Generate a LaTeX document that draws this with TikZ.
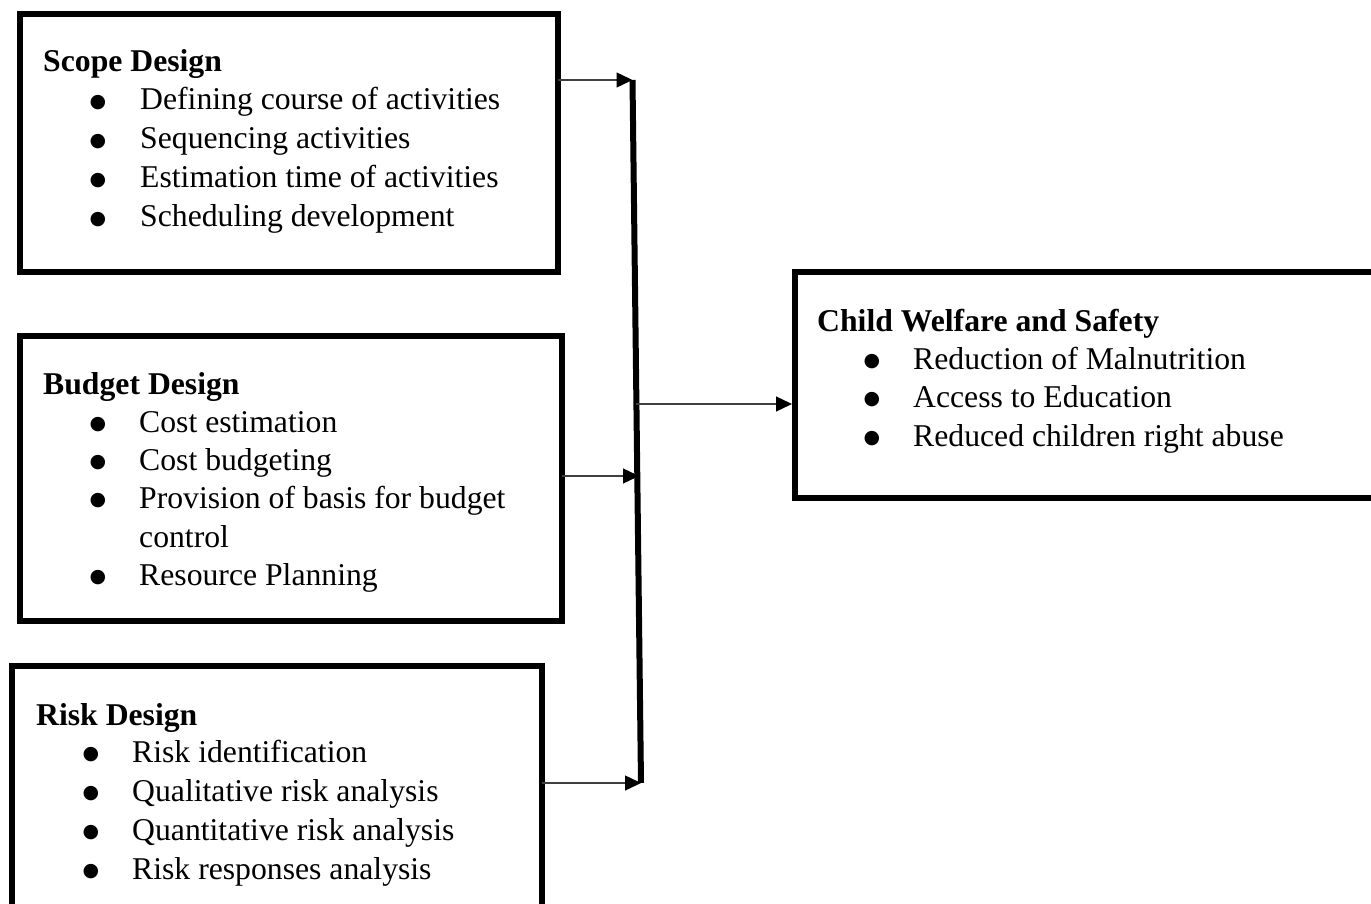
\documentclass[tikz,border=0pt]{standalone}
\usepackage{fontspec}
\setmainfont{Liberation Serif}
\newfontfamily\bulfont{DejaVu Sans}
\usetikzlibrary{arrows.meta}
\begin{document}
\begin{tikzpicture}[x=1pt,y=-1pt,
  box/.style={draw=black, line width=6.5pt, rectangle, inner sep=0pt, outer sep=0pt, anchor=north west},
  ttl/.style={anchor=base west, inner sep=0pt, font=\fontsize{31.7}{38}\selectfont\bfseries},
  itm/.style={anchor=base west, inner sep=0pt, font=\fontsize{31.7}{38}\selectfont},
  bul/.style={anchor=base, inner sep=0pt, font=\bulfont\fontsize{19}{19}\selectfont},
  arr/.style={draw=black!75, line width=1.4pt, -{Triangle[length=16pt,width=15pt,color=black]}},
  bus/.style={line width=6pt, draw=black}]
\useasboundingbox (0,0) rectangle (1371,904);
\begin{scope}
\clip (0,0) rectangle (1371,904);
% boxes
\node[box, minimum width=538pt, minimum height=258pt] (scope) at (20,14) {};
\node[box, minimum width=542pt, minimum height=285pt] (budget) at (20,336) {};
\node[box, minimum width=530pt, minimum height=300pt] (risk) at (12,666) {};
\node[box, minimum width=605pt, minimum height=226pt] (child) at (795,272) {};
% scope text
\node[ttl] (s0) at (43,72) {Scope Design};
\node[bul] (sb1) at (98,107.5) {●};
\node[itm] (s1) at (140,110) {Defining course of activities};
\node[bul] (sb2) at (98,146.5) {●};
\node[itm] (s2) at (140,149) {Sequencing activities};
\node[bul] (sb3) at (98,185.5) {●};
\node[itm] (s3) at (140,188) {Estimation time of activities};
\node[bul] (sb4) at (98,224.5) {●};
\node[itm] (s4) at (140,227) {Scheduling development};
% budget text
\node[ttl] (b0) at (43,394) {Budget Design};
\node[bul] (bb1) at (98,429.5) {●};
\node[itm] (b1) at (139,432) {Cost estimation};
\node[bul] (bb2) at (98,467.5) {●};
\node[itm] (b2) at (139,470) {Cost budgeting};
\node[bul] (bb3) at (98,505.5) {●};
\node[itm] (b3) at (139,508) {Provision of basis for budget};
\node[itm] (b3b) at (139,547) {control};
\node[bul] (bb4) at (98,582.5) {●};
\node[itm] (b4) at (139,585) {Resource Planning};
% risk text
\node[ttl] (r0) at (36,725) {Risk Design};
\node[bul] (rb1) at (91,759.5) {●};
\node[itm] (r1) at (132,762) {Risk identification};
\node[bul] (rb2) at (91,798.5) {●};
\node[itm] (r2) at (132,801) {Qualitative risk analysis};
\node[bul] (rb3) at (91,837.5) {●};
\node[itm] (r3) at (132,840) {Quantitative risk analysis};
\node[bul] (rb4) at (91,876.5) {●};
\node[itm] (r4) at (132,879) {Risk responses analysis};
% child text
\node[ttl] (c0) at (817,331) {Child Welfare and Safety};
\node[bul] (cb1) at (872,366.5) {●};
\node[itm] (c1) at (913,369) {Reduction of Malnutrition};
\node[bul] (cb2) at (872,404.5) {●};
\node[itm] (c2) at (913,407) {Access to Education};
\node[bul] (cb3) at (872,443.5) {●};
\node[itm] (c3) at (913,446) {Reduced children right abuse};
% bus and connectors
\coordinate (busTop) at (632.5,80);
\coordinate (busBot) at (641,783);
\coordinate (busB) at (639,476);
\coordinate (busOut) at (636,404);
\draw[bus] (busTop) -- (busBot);
\draw[arr] (scope.east |- busTop) -- (busTop);
\draw[arr] (budget.east |- busB) -- (busB);
\draw[arr] (risk.east |- busBot) -- (busBot);
\draw[arr, shorten >=3pt] (busOut) -- (child.west |- busOut);
\end{scope}
\end{tikzpicture}
\end{document}
